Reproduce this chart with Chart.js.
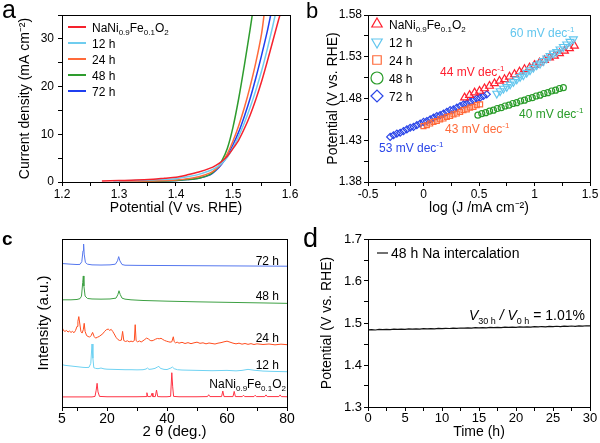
<!DOCTYPE html>
<html>
<head>
<meta charset="utf-8">
<script src="https://cdn.jsdelivr.net/npm/chart.js@4.4.1/dist/chart.umd.min.js"></script>
<style>
  body { margin: 0; background: #fff; width: 600px; height: 443px; position: relative; overflow: hidden; }
  canvas { position: absolute; }
</style>
</head>
<body>
<canvas id="ca" width="300" height="220" style="left:0;top:0"></canvas>
<canvas id="cb" width="300" height="220" style="left:300px;top:0"></canvas>
<canvas id="cc" width="300" height="223" style="left:0;top:220px"></canvas>
<canvas id="cd" width="300" height="223" style="left:300px;top:220px"></canvas>
<script>
// ---- series names / colours
const seriesNames = ['NaNi0.9Fe0.1O2', '12 h', '24 h', '48 h', '72 h'];
const lineColors = ['#f5222d', '#6fcdef', '#ff6a3a', '#2e9c2e', '#1f3ff0'];
const xrdColors = ['#ff3344', '#6fd2f2', '#ff4d1f', '#3da043', '#5577ee'];

// ---- (a) LSV curves, potential (V) vs current density (mA cm-2)
const aV0 = [1.27, 1.30, 1.33, 1.36, 1.38, 1.40, 1.42, 1.44, 1.46, 1.47, 1.48, 1.49, 1.50, 1.51, 1.52, 1.53, 1.54, 1.55, 1.56, 1.57, 1.58, 1.585];
const aJ0 = [0.2, 0.3, 0.4, 0.6, 0.8, 1.0, 1.5, 2.1, 2.9, 3.5, 4.3, 5.4, 7.0, 8.8, 11.2, 14.0, 17.3, 21.0, 25.2, 29.6, 34.0, 36];
const aV12 = [1.29, 1.33, 1.37, 1.40, 1.42, 1.44, 1.46, 1.47, 1.48, 1.49, 1.50, 1.51, 1.52, 1.53, 1.54, 1.55, 1.56, 1.57, 1.575];
const aJ12 = [0.2, 0.3, 0.5, 0.7, 1.1, 1.6, 2.4, 3.0, 3.9, 5.2, 7.2, 9.6, 12.4, 15.6, 19.2, 23.2, 27.8, 32.8, 35.5];
const aV24 = [1.30, 1.35, 1.40, 1.42, 1.44, 1.46, 1.47, 1.48, 1.49, 1.50, 1.51, 1.52, 1.53, 1.54, 1.55, 1.555];
const aJ24 = [0.1, 0.2, 0.4, 0.7, 1.1, 1.9, 2.7, 3.9, 5.9, 8.6, 11.8, 15.6, 20.0, 25.0, 31.0, 35.5];
const aV48 = [1.33, 1.37, 1.40, 1.42, 1.44, 1.46, 1.47, 1.48, 1.49, 1.50, 1.51, 1.52, 1.53, 1.535];
const aJ48 = [0.1, 0.2, 0.3, 0.5, 0.8, 1.6, 2.6, 4.3, 7.0, 11.5, 17.5, 24.5, 32.0, 36];
const aV72 = [1.32, 1.36, 1.40, 1.42, 1.44, 1.46, 1.47, 1.48, 1.49, 1.50, 1.51, 1.52, 1.53, 1.54, 1.55, 1.56, 1.567];
const aJ72 = [0.1, 0.2, 0.3, 0.5, 0.8, 1.5, 2.4, 3.7, 5.5, 7.8, 10.5, 13.8, 17.5, 21.8, 26.5, 31.5, 35.5];
const aTicksX = [1.2, 1.25, 1.3, 1.35, 1.4, 1.45, 1.5, 1.55, 1.6];
const aMajorX = [1.2, 1.3, 1.4, 1.5, 1.6];
const aTicksY = [0, 5, 10, 15, 20, 25, 30, 35];
const aMajorY = [0, 10, 20, 30];

// ---- (b) Tafel plots, log J vs potential
const bX0 = [0.37, 0.415, 0.46, 0.505, 0.55, 0.595, 0.64, 0.685, 0.73, 0.775, 0.82, 0.865, 0.91, 0.955, 1.00, 1.045, 1.09, 1.135, 1.18, 1.225, 1.27, 1.315, 1.36];
const bY0 = [1.481, 1.484, 1.487, 1.489, 1.492, 1.495, 1.498, 1.501, 1.503, 1.506, 1.509, 1.512, 1.515, 1.517, 1.520, 1.523, 1.526, 1.529, 1.531, 1.534, 1.537, 1.540, 1.543];
const bX12 = [0.66, 0.69, 0.72, 0.75, 0.78, 0.81, 0.84, 0.87, 0.90, 0.93, 0.96, 0.99, 1.02, 1.05, 1.08, 1.11, 1.14, 1.17, 1.20, 1.23, 1.26, 1.29, 1.32, 1.35];
const bY12 = [1.486, 1.489, 1.492, 1.494, 1.497, 1.500, 1.503, 1.506, 1.508, 1.511, 1.514, 1.517, 1.520, 1.522, 1.525, 1.528, 1.531, 1.534, 1.536, 1.539, 1.542, 1.545, 1.548, 1.551];
const bX24 = [0.00, 0.03, 0.06, 0.09, 0.12, 0.15, 0.18, 0.21, 0.24, 0.27, 0.30, 0.33, 0.36, 0.39, 0.42, 0.45, 0.48, 0.51];
const bY24 = [1.447, 1.448, 1.450, 1.452, 1.453, 1.455, 1.456, 1.458, 1.459, 1.461, 1.462, 1.464, 1.466, 1.467, 1.469, 1.470, 1.472, 1.473];
const bX48 = [0.490, 0.525, 0.560, 0.595, 0.630, 0.665, 0.700, 0.735, 0.770, 0.805, 0.840, 0.875, 0.910, 0.945, 0.980, 1.015, 1.050, 1.085, 1.120, 1.155, 1.190, 1.225, 1.260];
const bY48 = [1.460, 1.462, 1.463, 1.465, 1.466, 1.468, 1.469, 1.471, 1.472, 1.474, 1.475, 1.477, 1.478, 1.480, 1.481, 1.483, 1.484, 1.486, 1.487, 1.489, 1.490, 1.492, 1.493];
const bX72 = [-0.30, -0.27, -0.24, -0.21, -0.18, -0.15, -0.12, -0.09, -0.06, -0.03, 0.00, 0.03, 0.06, 0.09, 0.12, 0.15, 0.18, 0.21, 0.24, 0.27, 0.30, 0.33, 0.36, 0.39, 0.42, 0.45, 0.48, 0.51, 0.54, 0.57];
const bY72 = [1.434, 1.436, 1.438, 1.439, 1.441, 1.443, 1.445, 1.446, 1.448, 1.450, 1.452, 1.453, 1.455, 1.457, 1.459, 1.460, 1.462, 1.464, 1.466, 1.467, 1.469, 1.471, 1.473, 1.474, 1.476, 1.478, 1.480, 1.481, 1.483, 1.485];
const bSlopes = ['44', '60', '43', '40', '53'];
const bTicksX = [-0.5, -0.25, 0, 0.25, 0.5, 0.75, 1, 1.25, 1.5];
const bMajorX = [-0.5, 0, 0.5, 1, 1.5];
const bTicksY = [1.38, 1.405, 1.43, 1.455, 1.48, 1.505, 1.53, 1.555, 1.58];
const bMajorY = [1.38, 1.43, 1.48, 1.53, 1.58];

// ---- (c) XRD patterns, 2 theta vs stacked intensity (a.u.)
const cX0 = [5, 10, 15, 16.0, 16.4, 16.7, 17.0, 17.5, 20, 25, 30, 33.0, 33.3, 33.6, 34.6, 35.0, 35.3, 36.1, 36.5, 36.9, 38, 40, 41.2, 41.6, 41.9, 42.2, 44, 50, 53.5, 53.9, 54.3, 58.2, 58.6, 59.0, 62.0, 62.4, 62.8, 65.1, 65.5, 65.9, 69, 69.4, 69.8, 72.6, 73, 73.4, 77.3, 77.7, 78.1, 80];
const cY0 = [6.0, 6.0, 6.0, 6.3, 10, 14.1, 9, 6.3, 6.1, 6.1, 6.1, 6.2, 8.5, 6.2, 6.2, 8.2, 6.2, 6.2, 10.1, 6.2, 6.1, 6.1, 6.3, 20.4, 12, 6.3, 6.1, 6.1, 6.2, 7.3, 6.2, 6.2, 9.5, 6.2, 6.2, 9.3, 6.2, 6.2, 7.0, 6.2, 6.2, 7.0, 6.2, 6.2, 7.2, 6.2, 6.2, 7.2, 6.2, 6.1];
const cX12 = [5, 6, 7, 8, 9, 10, 11, 12, 13, 14, 14.6, 15.0, 15.3, 15.6, 16.2, 17, 18, 19, 20, 22, 24, 26, 28, 30, 32, 33, 33.5, 34, 35, 36, 36.8, 37.3, 37.8, 39, 40, 41.3, 41.8, 42.4, 43.5, 45, 50, 55, 60, 63, 65, 67, 69, 72, 75, 80];
const cY12 = [25.2, 24.8, 24.6, 24.4, 24.2, 24.0, 23.8, 23.6, 23.5, 23.6, 26, 37.5, 29, 23.4, 23.0, 22.8, 23.2, 22.7, 22.5, 22.4, 22.3, 22.2, 22.2, 22.1, 22.2, 22.6, 23.2, 22.4, 22.6, 23.0, 23.8, 24.2, 23.0, 22.4, 22.3, 23.2, 23.8, 22.8, 22.2, 22.0, 21.8, 21.6, 21.8, 21.5, 21.8, 22.4, 21.9, 21.4, 21.2, 21.0];
const cX24 = [5, 5.5, 6, 6.5, 7, 7.5, 8, 8.5, 9, 9.5, 10, 10.3, 10.6, 10.9, 11.3, 11.7, 12.1, 12.4, 12.7, 13.2, 13.7, 14.2, 14.7, 15.2, 15.7, 16.2, 16.8, 17.4, 18, 18.6, 19.2, 19.8, 20.4, 20.9, 21.4, 21.9, 22.4, 23, 23.6, 24.2, 24.8, 25.2, 25.6, 26.2, 26.8, 27.4, 28, 28.6, 29.1, 29.4, 29.7, 30.2, 30.8, 31.4, 32, 32.6, 33.2, 33.8, 34.4, 35, 35.6, 36.2, 36.8, 37.4, 38, 38.6, 39.2, 39.8, 40.4, 41, 41.6, 42.1, 42.4, 42.8, 43.4, 44, 45, 46, 47, 48, 49, 50, 51, 52, 53, 54, 55, 56, 57, 58, 59, 60, 61, 62, 63, 64, 65, 66, 67, 68, 69, 70, 72, 74, 76, 78, 80];
const cY24 = [47.5, 45.5, 45.0, 45.6, 44.6, 45.2, 44.4, 45.0, 44.2, 45.5, 48, 51, 53.8, 50, 45, 44, 46, 49.8, 45, 42.5, 42.0, 41.6, 42.5, 44.4, 42.0, 41.0, 41.5, 42.0, 42.8, 43.6, 45.0, 46.0, 46.4, 45.6, 46.2, 45.0, 43.5, 41.5, 40.2, 39.6, 39.8, 45.0, 39.5, 39.0, 39.4, 38.8, 39.2, 38.9, 39.5, 49.0, 39.5, 38.8, 39.3, 38.7, 39.4, 40.2, 41.0, 40.5, 39.6, 39.4, 39.8, 40.4, 40.8, 40.6, 40.9, 40.2, 39.6, 39.2, 38.9, 38.6, 38.8, 41.8, 38.9, 38.2, 38.6, 38.0, 38.5, 37.8, 38.3, 37.7, 38.2, 38.6, 37.9, 38.2, 37.6, 38.1, 37.8, 37.5, 38.0, 38.3, 38.8, 39.2, 38.6, 38.0, 37.6, 38.0, 37.4, 37.8, 37.3, 37.7, 37.2, 37.6, 37.2, 37.5, 37.0, 37.4, 37.1];
const cX48 = [5, 8, 10, 11, 11.5, 11.9, 12.1, 12.3, 12.7, 13.5, 15, 18, 21, 23, 23.6, 24.0, 24.4, 25, 26, 28, 32, 40, 50, 60, 70, 80];
const cY48 = [63.8, 63.8, 64, 64.5, 66, 74, 78, 72, 66, 64.6, 64.3, 64.2, 64.3, 64.8, 66.8, 69.2, 67, 64.8, 64.2, 63.8, 63.4, 63.0, 62.6, 62.3, 62.0, 61.7];
const cX72 = [5, 8, 10, 11, 11.6, 12.0, 12.2, 12.4, 12.8, 13.5, 15, 18, 21, 22.8, 23.5, 23.9, 24.3, 25.0, 26, 30, 40, 50, 60, 70, 80];
const cY72 = [85.4, 85.0, 84.8, 84.9, 86.5, 93, 97, 91, 86, 85, 84.6, 84.5, 84.6, 85.0, 87, 89.5, 87, 84.8, 84.4, 84.3, 84.2, 84.1, 84.0, 83.9, 83.8];
const cTicksX = [5, 10, 20, 30, 40, 50, 60, 70, 80];
const cMajorX = [5, 20, 40, 60, 80];

// ---- (d) chronopotentiometry, time (h) vs potential
const dT = [0, 0.5, 1, 1.5, 2, 2.5, 3, 3.5, 4, 4.5, 5, 5.5, 6, 6.5, 7, 7.5, 8, 8.5, 9, 9.5, 10, 10.5, 11, 11.5, 12, 12.5, 13, 13.5, 14, 14.5, 15, 15.5, 16, 16.5, 17, 17.5, 18, 18.5, 19, 19.5, 20, 20.5, 21, 21.5, 22, 22.5, 23, 23.5, 24, 24.5, 25, 25.5, 26, 26.5, 27, 27.5, 28, 28.5, 29, 29.5, 30];
const dV = [1.4835, 1.4843, 1.4834, 1.4846, 1.4840, 1.4850, 1.4843, 1.4852, 1.4847, 1.4856, 1.4850, 1.4859, 1.4852, 1.4862, 1.4856, 1.4865, 1.4860, 1.4868, 1.4862, 1.4872, 1.4866, 1.4874, 1.4869, 1.4878, 1.4872, 1.4881, 1.4876, 1.4884, 1.4879, 1.4888, 1.4882, 1.4891, 1.4885, 1.4894, 1.4889, 1.4897, 1.4891, 1.4900, 1.4895, 1.4903, 1.4898, 1.4906, 1.4901, 1.4910, 1.4904, 1.4912, 1.4907, 1.4916, 1.4910, 1.4918, 1.4913, 1.4922, 1.4916, 1.4925, 1.4919, 1.4928, 1.4922, 1.4931, 1.4925, 1.4934, 1.4930];
const dTicksX = [0, 2.5, 5, 7.5, 10, 12.5, 15, 17.5, 20, 22.5, 25, 27.5, 30];
const dMajorX = [0, 5, 10, 15, 20, 25, 30];
const dTicksY = [1.3, 1.35, 1.4, 1.45, 1.5, 1.55, 1.6, 1.65, 1.7];
const dMajorY = [1.3, 1.4, 1.5, 1.6, 1.7];

const FAM = '"Liberation Sans", Arial, sans-serif';
Chart.defaults.font.family = FAM;
Chart.defaults.color = '#000';
Chart.defaults.animation = false;
Chart.defaults.plugins.legend.display = false;
Chart.defaults.plugins.tooltip.enabled = false;

const formula = [['NaNi', ''], ['0.9', 'sub'], ['Fe', ''], ['0.1', 'sub'], ['O', ''], ['2', 'sub']];
const richName = n => n === seriesNames[0] ? formula : [[n, '']];

function pairs(xs, ys) {
  return xs.map((x, i) => ({ x: x, y: ys[i] }));
}

// text with sub/superscripts; y is the baseline
function rich(ctx, x, y, parts, size, color, align) {
  ctx.save();
  ctx.fillStyle = color;
  ctx.textBaseline = 'alphabetic';
  ctx.textAlign = 'left';
  const fontFor = k => (k === 'i' ? 'italic ' : '') + ((k === 'sub' || k === 'sup') ? Math.round(size * 0.66) : size) + 'px ' + FAM;
  let w = 0;
  parts.forEach(p => { ctx.font = fontFor(p[1]); w += ctx.measureText(p[0]).width; });
  let cx = align === 'right' ? x - w : x;
  parts.forEach(p => {
    ctx.font = fontFor(p[1]);
    const dy = p[1] === 'sub' ? size * 0.3 : (p[1] === 'sup' ? -size * 0.38 : 0);
    ctx.fillText(p[0], cx, y + dy);
    cx += ctx.measureText(p[0]).width;
  });
  ctx.restore();
}

function near(list, v) {
  return list.some(m => Math.abs(m - v) < 1e-9);
}

function linAxis(o) {
  return {
    type: 'linear', min: o.min, max: o.max,
    afterBuildTicks: s => { s.ticks = o.ticks.map(v => ({ value: v })); },
    afterFit: s => {
      if (o.horiz) s.height = o.size; else s.width = o.size;
      s.paddingLeft = s.paddingRight = s.paddingTop = s.paddingBottom = 0;
    },
    ticks: {
      display: !!o.major, autoSkip: false, maxRotation: 0, color: '#000', padding: o.pad || 0,
      font: { size: o.font || 12 },
      callback: v => (o.major && near(o.major, v)) ? o.fmt(v) : ''
    },
    grid: { display: !!o.major, drawOnChartArea: false, tickLength: 4, color: '#000', lineWidth: 1 },
    border: { display: true, color: '#000', width: 1 },
    title: {
      display: true, text: o.title, color: '#000', font: { size: o.tSize },
      padding: o.horiz ? { top: 0, bottom: o.tPad } : { top: o.tPad, bottom: 0 }
    }
  };
}

function framePlugin(extra) {
  return {
    id: 'frame',
    afterDraw(chart) {
      const ctx = chart.ctx, a = chart.chartArea;
      ctx.save();
      ctx.strokeStyle = '#000';
      ctx.lineWidth = 1;
      ctx.strokeRect(Math.round(a.left) + 0.5, Math.round(a.top) + 0.5, Math.round(a.right - a.left), Math.round(a.bottom - a.top));
      ctx.restore();
      extra(ctx, chart);
    }
  };
}

function panelLetter(ctx, t, x, y, font) {
  ctx.save();
  ctx.fillStyle = '#000';
  ctx.font = font + ' ' + FAM;
  ctx.textBaseline = 'alphabetic';
  ctx.fillText(t, x, y);
  ctx.restore();
}

// ---------- panel a
const aSets = [[aV0, aJ0], [aV12, aJ12], [aV24, aJ24], [aV48, aJ48], [aV72, aJ72]];
new Chart(document.getElementById('ca'), {
  type: 'scatter',
  data: {
    datasets: aSets.map((s, i) => ({
      label: seriesNames[i], data: pairs(s[0], s[1]), showLine: true, pointRadius: 0,
      borderColor: lineColors[i], borderWidth: 1.5, tension: 0.3
    }))
  },
  options: {
    responsive: false,
    layout: { padding: { left: 0, right: 10, top: 15, bottom: 0 } },
    scales: {
      x: linAxis({ horiz: true, min: 1.2, max: 1.6, ticks: aTicksX, major: aMajorX, fmt: v => v.toFixed(1), size: 38, pad: 1, font: 12,
        title: 'Potential (V vs. RHE)', tSize: 14, tPad: 3 }),
      y: linAxis({ min: 0, max: 35, ticks: aTicksY, major: aMajorY, fmt: v => String(v), size: 62, pad: 4, font: 12,
        title: 'Current density (mA cm\u207B\u00B2)', tSize: 14, tPad: 17 })
    }
  },
  plugins: [framePlugin((ctx) => {
    panelLetter(ctx, 'a', 2, 18, '25px');
    seriesNames.forEach((n, i) => {
      const y = 27 + i * 16;
      ctx.save();
      ctx.strokeStyle = lineColors[i];
      ctx.lineWidth = 2;
      ctx.beginPath(); ctx.moveTo(68, y); ctx.lineTo(86, y); ctx.stroke();
      ctx.restore();
      rich(ctx, 92, y + 4.5, richName(n), 12, '#000');
    });
  })]
});

// ---------- panel b
const bSets = [[bX0, bY0], [bX12, bY12], [bX24, bY24], [bX48, bY48], [bX72, bY72]];
const bStyles = [
  { pointStyle: 'triangle', rot: 0, r: 4.5 },
  { pointStyle: 'triangle', rot: 180, r: 4.5 },
  { pointStyle: 'rect', rot: 0, r: 3.5 },
  { pointStyle: 'circle', rot: 0, r: 3 },
  { pointStyle: 'rectRot', rot: 0, r: 3.5 }
];
const bOrder = [1, 0, 2, 3, 4];
const bColors = ['#ff1f2f', '#62c6ee', '#ff6a3a', '#2a9c2a', '#2a45e8'];
new Chart(document.getElementById('cb'), {
  type: 'scatter',
  data: {
    datasets: bOrder.map(i => ({
      label: seriesNames[i], data: pairs(bSets[i][0], bSets[i][1]),
      pointStyle: bStyles[i].pointStyle, rotation: bStyles[i].rot, pointRadius: bStyles[i].r,
      pointBorderColor: bColors[i], pointBackgroundColor: 'rgba(255,255,255,0)', pointBorderWidth: 1.2
    }))
  },
  options: {
    responsive: false,
    layout: { padding: { left: 0, right: 10, top: 15, bottom: 0 } },
    scales: {
      x: linAxis({ horiz: true, min: -0.5, max: 1.5, ticks: bTicksX, major: bMajorX, fmt: v => String(v), size: 38, pad: 1, font: 12,
        title: 'log (J /mA cm\u207B\u00B2)', tSize: 14, tPad: 3 }),
      y: linAxis({ min: 1.38, max: 1.58, ticks: bTicksY, major: bMajorY, fmt: v => v.toFixed(2), size: 68, pad: 2, font: 12,
        title: 'Potential (V vs. RHE)', tSize: 14, tPad: 25 })
    }
  },
  plugins: [framePlugin((ctx) => {
    panelLetter(ctx, 'b', 6, 18, '22px');
    seriesNames.forEach((n, i) => {
      const y = 24 + i * 18;
      ctx.save();
      ctx.strokeStyle = bColors[i];
      ctx.fillStyle = 'rgba(255,255,255,0)';
      ctx.lineWidth = 1.2;
      Chart.helpers.drawPoint(ctx, { pointStyle: bStyles[i].pointStyle, rotation: bStyles[i].rot, radius: 6, borderWidth: 1.2 }, 77, y);
      ctx.restore();
      rich(ctx, 89, y + 4.5, richName(n), 12, '#000');
    });
    // slope labels: [series index, x, y centre]
    const spots = [[0, 140, 71], [1, 210, 32], [2, 145, 128], [3, 219, 113], [4, 79, 147]];
    spots.forEach(s => {
      rich(ctx, s[1], s[2] + 4.5, [[bSlopes[s[0]] + ' mV dec', ''], ['-1', 'sup']], 12, bColors[s[0]]);
    });
  })]
});

// ---------- panel c
const cSets = [[cX0, cY0], [cX12, cY12], [cX24, cY24], [cX48, cY48], [cX72, cY72]];
new Chart(document.getElementById('cc'), {
  type: 'scatter',
  data: {
    datasets: cSets.map((s, i) => ({
      label: seriesNames[i], data: pairs(s[0], s[1]), showLine: true, pointRadius: 0,
      borderColor: xrdColors[i], borderWidth: 1, tension: 0
    }))
  },
  options: {
    responsive: false,
    layout: { padding: { left: 0, right: 13, top: 19, bottom: 0 } },
    scales: {
      x: linAxis({ horiz: true, min: 5, max: 80, ticks: cTicksX, major: cMajorX, fmt: v => String(v), size: 36, pad: 0, font: 14,
        title: '2 \u03B8 (deg.)', tSize: 15, tPad: 2 }),
      y: linAxis({ min: 0, max: 100, ticks: [], major: null, size: 62, title: 'Intensity (a.u.)', tSize: 15, tPad: 35 })
    }
  },
  plugins: [framePlugin((ctx) => {
    panelLetter(ctx, 'c', 2, 25, 'bold 19px');
    // label right edges / centres
    const ys = [163, 144, 117, 75, 40];
    seriesNames.forEach((n, i) => {
      rich(ctx, i === 0 ? 286 : 279, ys[i] + 4.5, richName(n), 12, '#000', 'right');
    });
  })]
});

// ---------- panel d
new Chart(document.getElementById('cd'), {
  type: 'scatter',
  data: {
    datasets: [{
      label: '48 h Na intercalation', data: pairs(dT, dV), showLine: true, pointRadius: 0,
      borderColor: '#111', borderWidth: 1.2, tension: 0
    }]
  },
  options: {
    responsive: false,
    layout: { padding: { left: 0, right: 10, top: 19, bottom: 0 } },
    scales: {
      x: linAxis({ horiz: true, min: 0, max: 30, ticks: dTicksX, major: dMajorX, fmt: v => String(v), size: 36, pad: 0, font: 13,
        title: 'Time (h)', tSize: 14, tPad: 2 }),
      y: linAxis({ min: 1.3, max: 1.7, ticks: dTicksY, major: dMajorY, fmt: v => v.toFixed(1), size: 68, pad: 2, font: 13,
        title: 'Potential (V vs. RHE)', tSize: 14, tPad: 19 })
    }
  },
  plugins: [framePlugin((ctx, chart) => {
    panelLetter(ctx, 'd', 3, 27, '27px');
    ctx.save();
    ctx.strokeStyle = '#111';
    ctx.lineWidth = 1.2;
    ctx.beginPath(); ctx.moveTo(77, 33); ctx.lineTo(88, 33); ctx.stroke();
    ctx.restore();
    rich(ctx, 91, 38, [[chart.data.datasets[0].label, '']], 14, '#000');
    rich(ctx, 285, 100, [['V', 'i'], ['30 h', 'sub'], [' / ', 'i'], ['V', 'i'], ['0 h', 'sub'], [' = 1.01%', '']], 14, '#000', 'right');
  })]
});
</script>
</body>
</html>
